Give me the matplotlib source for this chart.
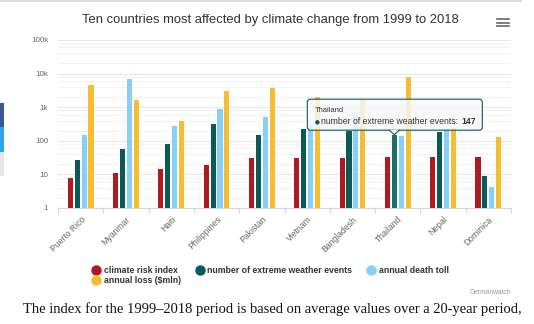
import numpy as np
import matplotlib
matplotlib.use('Agg')
import matplotlib.pyplot as plt
from matplotlib.lines import Line2D
from matplotlib.patches import Rectangle, FancyBboxPatch, Polygon
from matplotlib.ticker import FixedLocator, NullFormatter

# chart data (Germanwatch Climate Risk Index 1999-2018)
countries = ['Puerto Rico', 'Myanmar', 'Haiti', 'Philippines', 'Pakistan',
             'Vietnam', 'Bangladesh', 'Thailand', 'Nepal', 'Dominica']
climate_risk_index = [6.67, 10.33, 13.83, 17.67, 28.83, 29.83, 30.00, 31.00, 31.50, 32.33]
extreme_events = [25, 55, 78, 317, 152, 226, 191, 147, 180, 8]
death_toll = [149.85, 7052.40, 274.05, 869.80, 502.45, 285.80, 577.45, 140.00, 228.00, 3.35]
annual_loss = [4567.06, 1630.06, 388.93, 3118.68, 3792.52, 2018.77, 1686.33, 7764.06, 233.37, 133.03]

series_names = ['climate risk index', 'number of extreme weather events',
                'annual death toll', 'annual loss ($mln)']
series_colors = ['#ad1a21', '#0c5a58', '#86cff5', '#f6bd33']
y_ticks = [1, 10, 100, 1000, 10000, 100000]
y_tick_labels = ['1', '10', '100', '1k', '10k', '100k']

hover_country = 'Thailand'
hover_series = 1

W, H = 534, 324
plt.rcParams['font.family'] = ['Liberation Sans', 'DejaVu Sans']

fig = plt.figure(figsize=(W / 100, H / 100), dpi=100)
fig.patch.set_facecolor('white')

def fx(px):
    return px / W

def fy(py):
    return 1 - py / H

ax = fig.add_axes([fx(58), fy(208), fx(511) - fx(58), fy(40) - fy(208)])

x = np.arange(len(countries))
step = 0.152
width = 0.112
all_series = [climate_risk_index, extreme_events, death_toll, annual_loss]
for i, (vals, col) in enumerate(zip(all_series, series_colors)):
    cols = [col] * len(vals)
    if i == hover_series:
        cols[countries.index(hover_country)] = '#1d6e6b'
    ax.bar(x + (i - 1.5) * step, vals, width=width, bottom=1, color=cols, zorder=3)

ax.set_yscale('log')
ax.set_ylim(1, 100000)
ax.set_xlim(-0.5, len(countries) - 0.5)

ax.yaxis.set_major_locator(FixedLocator(y_ticks))
ax.set_yticklabels(y_tick_labels)
minor = [m * 10 ** k for k in range(5) for m in (2, 4, 6, 8)]
ax.yaxis.set_minor_locator(FixedLocator(minor))
ax.yaxis.set_minor_formatter(NullFormatter())
ax.tick_params(axis='y', which='both', length=0, pad=7, labelsize=5.8, labelcolor='#666666')
ax.grid(axis='y', which='major', color='#e6e6e6', lw=0.8, zorder=0)
ax.grid(axis='y', which='minor', color='#f2f2f2', lw=0.7, zorder=0)

ax.set_xticks(x)
ax.set_xticklabels(countries, rotation=45, ha='right', rotation_mode='anchor')
ax.set_xticks(np.arange(-0.5, len(countries)), minor=True)
ax.tick_params(axis='x', which='major', length=0, pad=5, labelsize=6.2, labelcolor='#666666')
ax.tick_params(axis='x', which='minor', length=3.6, width=0.8, color='#ccd6eb')
for s in ['top', 'right', 'left']:
    ax.spines[s].set_visible(False)
ax.spines['bottom'].set_color('#ccd6eb')
ax.spines['bottom'].set_linewidth(0.8)
ax.set_facecolor('none')

# title and menu icon
fig.text(fx(270.5), fy(20), 'Ten countries most affected by climate change from 1999 to 2018',
         ha='center', va='center', fontsize=9.4, color='#333333')
for yy in (19, 22.5, 26):
    fig.add_artist(Line2D([fx(497), fx(509)], [fy(yy), fy(yy)], color='#666666', lw=1.2))

# legend, ordered so rows read like the original
handles = [Line2D([], [], marker='o', ls='', markersize=6.5, color=c) for c in series_colors]
order = [0, 3, 1, 2]
leg = fig.legend([handles[i] for i in order], [series_names[i] for i in order],
                 ncol=3, loc='upper left', bbox_to_anchor=(fx(88), fy(262)),
                 frameon=False, handlelength=0.8, handletextpad=0.5,
                 columnspacing=1.7, labelspacing=0.12, borderpad=0,
                 prop={'weight': 'bold', 'size': 6.35})
for t in leg.get_texts():
    t.set_color('#333333')

fig.text(fx(510.7), fy(293), 'Germanwatch', ha='right', va='center', fontsize=4.8, color='#999999')

# page elements around the chart
fig.add_artist(Line2D([0, fx(521)], [fy(1), fy(1)], color='#dddddd', lw=1.5))
for y0, y1, c in [(103, 127, '#3b5998'), (127, 152, '#2ba5e8'), (152, 176, '#e5e5e5')]:
    fig.add_artist(Rectangle((0, fy(y1)), fx(4), fy(y0) - fy(y1), color=c, lw=0))

body = fig.text(fx(22.7), fy(313), 'The index for the 1999\u20132018 period is based on average values over a 20-year period,',
                ha='left', va='baseline', fontsize=10, color='#111111', family='Liberation Serif')

fig.canvas.draw()
r = fig.canvas.get_renderer()
bw = body.get_window_extent(r).width
body.set_fontsize(10 * 500 / bw)

# tooltip on the hovered point
hi = countries.index(hover_country)
px, py = ax.transData.transform((hi + (hover_series - 1.5) * step, extreme_events[hi]))
bx0, bx1 = px - 87, px + 88
by0 = py + 5
by1 = by0 + 31
tip = FancyBboxPatch((bx0, by0), bx1 - bx0, by1 - by0, boxstyle='round,pad=0,rounding_size=3',
                     transform=None, fc=(0.97, 0.97, 0.97, 0.85), ec=series_colors[hover_series],
                     lw=0.8, zorder=10)
fig.add_artist(tip)
fig.add_artist(Polygon([(px - 5, by0 + 0.5), (px + 5, by0 + 0.5), (px, py + 0.5)], closed=True,
                       transform=None, fc=(0.97, 0.97, 0.97, 0.95), ec='none', zorder=11))
fig.add_artist(Line2D([px - 5, px, px + 5], [by0, py + 0.5, by0], transform=None,
                      color=series_colors[hover_series], lw=0.8, zorder=12))
fig.text(bx0 + 7, by1 - 11.5, hover_country, transform=None, ha='left', va='center',
         fontsize=5.4, color='#333333', zorder=13)
fig.text(bx0 + 7, by1 - 22.5, '\u25cf', transform=None, ha='left', va='center',
         fontsize=4, color=series_colors[hover_series], zorder=13, family='DejaVu Sans')
lab = fig.text(bx0 + 13.5, by1 - 22.5, series_names[hover_series] + ': ', transform=None,
               ha='left', va='center', fontsize=6.2, color='#333333', zorder=13)
fig.canvas.draw()
lx1 = lab.get_window_extent(r).x1
fig.text(lx1 + 1, by1 - 22.5, str(extreme_events[hi]), transform=None, ha='left', va='center',
         fontsize=6.2, weight='bold', color='#333333', zorder=13)

fig.savefig('out.png', dpi=100, facecolor='white')
